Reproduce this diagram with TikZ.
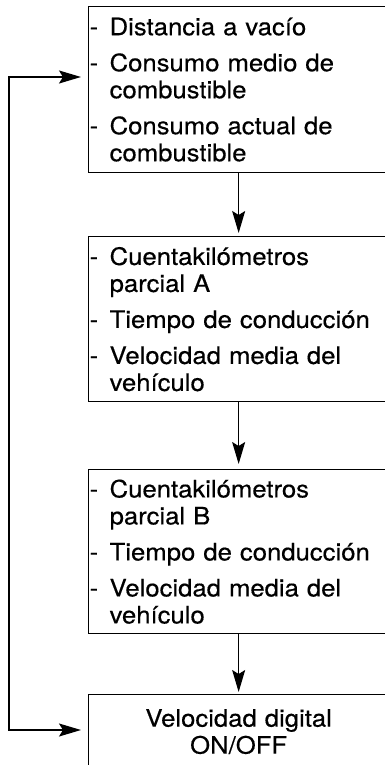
\documentclass[tikz,border=0pt]{standalone}
\usepackage{fontspec}
\newfontfamily\heros[FakeStretch=1.07,FakeBold=0.4]{TeX Gyre Heros}
\usetikzlibrary{arrows.meta}
\tikzset{
  box/.style={draw, line width=1.3pt, inner xsep=1pt, inner ysep=0pt,
    minimum width=300, text width=298, align=left, anchor=north west,
    font=\heros\fontsize{24}{27}\selectfont},
  flowarrow/.style={line width=1.3pt, -{Stealth[length=22pt,width=13pt,inset=4pt]}},
  loopline/.style={line width=1.3pt, {Stealth[length=22pt,width=13pt,inset=4pt]}-{Stealth[length=22pt,width=13pt,inset=4pt]}, shorten <=7pt, shorten >=7pt}
}
\newcommand{\itm}{\makebox[20pt][l]{-}}
\newcommand{\ind}{\hspace*{20pt}}
\begin{document}
\begin{tikzpicture}[x=1pt,y=1pt]
\useasboundingbox (0,0) rectangle (384,-765);
\node[box, minimum height=166] (b1) at (88,-6) {\itm Distancia a vacío\\[9pt]
\itm Consumo medio de\\ \ind combustible\\[9pt]
\itm Consumo actual de\\ \ind combustible};
\node[box, minimum height=165] (b2) at (88,-236) {\itm Cuentakilómetros\\ \ind parcial A\\[9pt]
\itm Tiempo de conducción\\[9pt]
\itm Velocidad media del\\ \ind vehículo};
\node[box, minimum height=164] (b3) at (88,-469) {\itm Cuentakilómetros\\ \ind parcial B\\[9pt]
\itm Tiempo de conducción\\[9pt]
\itm Velocidad media del\\ \ind vehículo};
\node[box, minimum height=74, align=center] (b4) at (88,-694) {Velocidad digital\\ON/OFF};
\draw[flowarrow, shorten >=3pt] (b1.south) -- (b2.north);
\draw[flowarrow, shorten >=5pt] (b2.south) -- (b3.north);
\draw[flowarrow, shorten >=2pt] (b3.south) -- (b4.north);
\coordinate (l1) at ([yshift=-71]b1.north west);
\coordinate (l4) at ([yshift=-36]b4.north west);
\coordinate (xl) at (9,0);
\draw[loopline] (l1) -- (l1 -| xl) -- (l4 -| xl) -- (l4);
\end{tikzpicture}
\end{document}
